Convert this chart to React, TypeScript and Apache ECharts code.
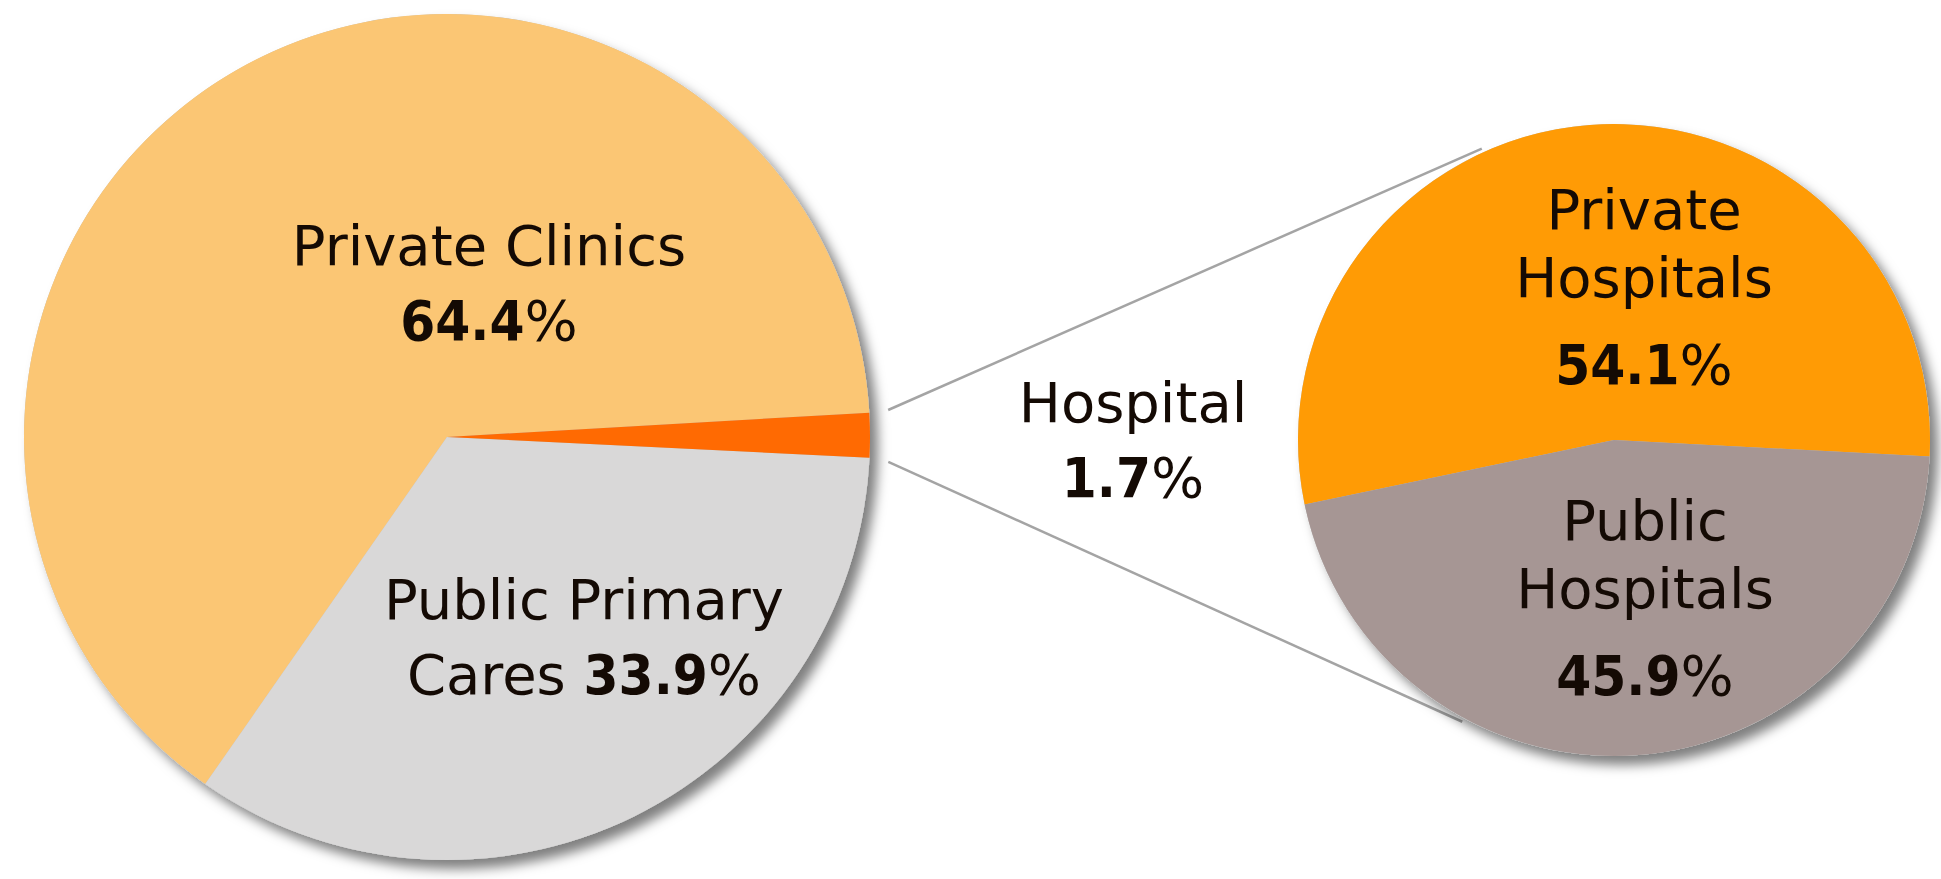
import React, { useEffect, useRef } from 'react';
import * as echarts from 'echarts';

// ---- data ----
const mainCategories = ['Private Clinics', 'Public Primary Cares', 'Hospital'];
const mainValues = [64.4, 33.9, 1.7];
const subCategories = ['Private Hospitals', 'Public Hospitals'];
const subValues = [54.1, 45.9];

// label text line breaks
const mainLabelLines = [['Private Clinics'], ['Public Primary', 'Cares'], ['Hospital']];
const mainValueInline = [false, true, false];
const subLabelLines = [['Private', 'Hospitals'], ['Public', 'Hospitals']];

// ---- styles / layout ----
const mainColors = ['#FBC674', '#D9D8D8', '#FF6A02'];
const subColors = ['#FF9B05', '#A69694'];
const W = 1941;
const H = 879;
const mainCenter = [447, 437];
const mainRadius = 423;
const mainStart = 3.3;
const subCenter = [1614, 440];
const subRadius = 316;
const subStart = 357;
const mainLabelPos = [[489, 283], [584, 637], [1133, 440]];
const subLabelPos = [[1644, 296], [1645, 607]];
const FONT = "'DejaVu Sans', Verdana, sans-serif";
const NUMFONT = "'DejaVu Sans Condensed', 'Liberation Sans', Arial, sans-serif";
const TXT = '#140a04';

const polar = (c: number[], r: number, deg: number) => {
  const a = (deg * Math.PI) / 180;
  return [c[0] + r * Math.cos(a), c[1] - r * Math.sin(a)];
};

export default function App() {
  const ref = useRef<HTMLDivElement>(null);
  useEffect(() => {
    document.body.style.margin = '0';
    if (!ref.current) return;
    const chart = echarts.init(ref.current, undefined, { renderer: 'svg' });

    const total = mainValues.reduce((a, b) => a + b, 0);
    const hospStart = mainStart + (360 * (mainValues[0] + mainValues[1])) / total;
    const hospEnd = hospStart + (360 * mainValues[2]) / total;
    const p1 = polar(mainCenter, mainRadius + 19, hospEnd + 0.2);
    const p2 = polar(mainCenter, mainRadius + 19, hospStart - 0.4);
    const q1 = polar(subCenter, subRadius + 4, 114.4);
    const q2 = polar(subCenter, subRadius + 4, -118.3);

    const richMain = {
      n: { fontSize: 56, fontFamily: FONT, color: TXT, lineHeight: 75 },
      b: { fontSize: 56, fontFamily: NUMFONT, fontWeight: 'bold', color: TXT, lineHeight: 75 },
    };
    const richSub = {
      n: { fontSize: 56, fontFamily: FONT, color: TXT, lineHeight: 68 },
      b: { fontSize: 56, fontFamily: NUMFONT, fontWeight: 'bold', color: TXT, lineHeight: 106 },
      p: { fontSize: 56, fontFamily: FONT, color: TXT, lineHeight: 106 },
    };

    const mainFormatter = (p: any) => {
      const i = p.dataIndex;
      const lines = mainLabelLines[i].map((l) => `{n|${l}}`);
      const val = `{b|${mainValues[i].toFixed(1)}}{n|%}`;
      if (mainValueInline[i]) {
        lines[lines.length - 1] = lines[lines.length - 1] + `{n| }` + val;
      } else {
        lines.push(val);
      }
      return lines.join('\n');
    };
    const subFormatter = (p: any) => {
      const i = p.dataIndex;
      const lines = subLabelLines[i].map((l) => `{n|${l}}`);
      lines.push(`{b|${subValues[i].toFixed(1)}}{p|%}`);
      return lines.join('\n');
    };

    const shadowStyle = {
      color: '#c0c0c0',
      shadowBlur: 12,
      shadowColor: 'rgba(0,0,0,0.5)',
      shadowOffsetX: 8,
      shadowOffsetY: 9,
    };

    chart.setOption({
      animation: false,
      backgroundColor: '#ffffff',
      graphic: [
        {
          type: 'line',
          z: 0,
          shape: { x1: p1[0], y1: p1[1], x2: q1[0], y2: q1[1] },
          style: { stroke: '#a4a4a4', lineWidth: 2.5 },
        },
        {
          type: 'line',
          z: 0,
          shape: { x1: p2[0], y1: p2[1], x2: q2[0], y2: q2[1] },
          style: { stroke: '#a4a4a4', lineWidth: 2.5 },
        },
      ],
      series: [
        {
          type: 'pie',
          silent: true,
          z: 1,
          center: mainCenter,
          radius: mainRadius,
          label: { show: false },
          labelLine: { show: false },
          itemStyle: shadowStyle,
          data: [{ value: 1, name: 'bg1' }],
        },
        {
          type: 'pie',
          silent: true,
          z: 1,
          center: subCenter,
          radius: subRadius,
          label: { show: false },
          labelLine: { show: false },
          itemStyle: shadowStyle,
          data: [{ value: 1, name: 'bg2' }],
        },
        {
          type: 'pie',
          silent: true,
          z: 2,
          center: mainCenter,
          radius: mainRadius,
          startAngle: mainStart,
          clockwise: false,
          avoidLabelOverlap: false,
          label: { show: true, position: 'inside', formatter: mainFormatter, rich: richMain },
          labelLine: { show: false },
          labelLayout: (p: any) => ({
            x: mainLabelPos[p.dataIndex][0],
            y: mainLabelPos[p.dataIndex][1],
            align: 'center',
            verticalAlign: 'middle',
          }),
          data: mainCategories.map((name, i) => ({
            name,
            value: mainValues[i],
            itemStyle: { color: mainColors[i] },
          })),
        },
        {
          type: 'pie',
          silent: true,
          z: 2,
          center: subCenter,
          radius: subRadius,
          startAngle: subStart,
          clockwise: false,
          avoidLabelOverlap: false,
          label: { show: true, position: 'inside', formatter: subFormatter, rich: richSub },
          labelLine: { show: false },
          labelLayout: (p: any) => ({
            x: subLabelPos[p.dataIndex][0],
            y: subLabelPos[p.dataIndex][1],
            align: 'center',
            verticalAlign: 'middle',
          }),
          data: subCategories.map((name, i) => ({
            name,
            value: subValues[i],
            itemStyle: { color: subColors[i] },
          })),
        },
      ],
    });
    return () => chart.dispose();
  }, []);
  return <div ref={ref} style={{ width: W, height: H }} />;
}
